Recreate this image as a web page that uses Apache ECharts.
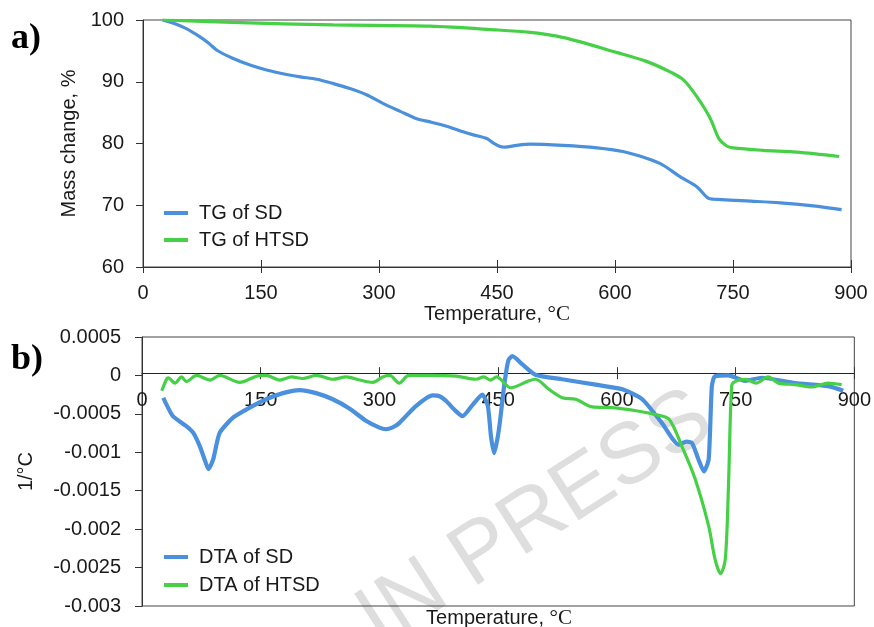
<!DOCTYPE html>
<html>
<head>
<meta charset="utf-8">
<script src="https://cdn.jsdelivr.net/npm/echarts@6/dist/echarts.min.js"></script>
<style>
html,body{margin:0;padding:0;background:#fff;}
#c{width:874px;height:627px;}
</style>
</head>
<body>
<div id="c"></div>
<script>
// ---- axis ticks ----
var xTicks = [0, 150, 300, 450, 600, 750, 900];
var tgTicks = [60, 70, 80, 90, 100];
var dtaTicks = [-0.003, -0.0025, -0.002, -0.0015, -0.001, -0.0005, 0, 0.0005];

// ---- (a) TG curves ----
var tgSdT = [25,38,55,72,84,94,114,136,157,178,200,221,242,263,284,305,327,348,365,386,407,420,437,445,454,460,475,492,534,577,610,640,661,683,704,719,725,767,810,852,888];
var tgSdV = [100,99.5,98.6,97.3,96.2,95.1,93.8,92.7,91.9,91.3,90.8,90.4,89.7,88.9,87.9,86.5,85.2,84.0,83.5,82.8,81.9,81.4,80.8,80.1,79.5,79.4,79.7,79.9,79.7,79.3,78.7,77.6,76.5,74.6,73.0,71.1,71.0,70.7,70.4,69.9,69.3];
var tgHtT = [25,114,242,365,449,492,526,555,598,640,670,687,704,721,732,742,750,788,831,885];
var tgHtV = [100,99.6,99.2,99.0,98.4,98.0,97.4,96.5,94.9,93.3,91.6,90.3,87.6,84.1,80.8,79.6,79.3,78.9,78.6,77.9];

// ---- (b) DTA curves ----
var dtaSdT = [27,30,39,56,65,73,80,84,90,98,115,136,157,178,199,220,241,262,283,300,308,316,325,346,367,376,384,395,405,418,430,437,441,445,451,458,463,468,481,497,531,573,607,632,657,678,688,695,703,710,716,720,724,741,762,783,825,867,886];
var dtaSdV = [-0.00029,-0.00036,-0.00053,-0.00066,-0.00075,-0.00092,-0.00112,-0.00122,-0.00109,-0.00075,-0.00055,-0.00042,-0.00031,-0.00023,-0.00019,-0.00023,-0.00031,-0.00043,-0.00059,-0.00068,-0.00070,-0.00068,-0.00062,-0.00040,-0.00026,-0.00027,-0.00033,-0.00045,-0.00053,-0.00038,-0.00025,-0.00040,-0.00080,-0.00101,-0.00070,-0.00010,0.00020,0.00025,0.00014,0.00001,-0.00005,-0.00012,-0.00018,-0.00031,-0.00062,-0.00090,-0.00086,-0.00088,-0.00109,-0.00125,-0.00109,-0.00014,-0.00001,0,-0.00007,-0.00003,-0.00010,-0.00014,-0.00020];
var dtaHtT = [25,31,33,41.6,50,56,69,86,98,123.5,144.6,157,174,189,203,220,241,258,275,291.5,304,313,325,337,363,397,422,432,440,448,466,489,497,514,531,548,569,594,624,649,666,682,699,716,724,731,737,741,745,749,763,776,791,804,825,846,867,884];
var dtaHtV = [-0.0002,-0.00005,-0.00003,-0.0001,-0.00002,-0.00008,0,-0.00006,0,-0.00009,-0.00001,0,-0.00006,-0.00002,-0.00004,0,-0.00005,-0.00002,-0.00006,-0.00009,-0.00002,0,-0.0001,0,0,-0.00001,-0.00005,-0.00002,-0.00006,-0.00002,-0.00016,-0.00007,-0.00005,-0.00018,-0.00029,-0.00031,-0.00041,-0.00042,-0.00046,-0.00051,-0.00057,-0.00092,-0.00135,-0.00196,-0.00239,-0.00258,-0.00239,-0.00144,-0.00014,-0.00008,-0.00005,-0.0001,-0.00002,-0.0001,-0.00012,-0.00015,-0.0001,-0.00012];

function zip(t, v) { return t.map(function (x, i) { return [x, v[i]]; }); }

var BLUE = '#4a90dc';
var GREEN = '#46d046';
var FONT = 'Liberation Sans';
var TXT = '#1a1a1a';

var GB = { left: 142, top: 337, width: 714, height: 269 };

var chart = echarts.init(document.getElementById('c'), null, { renderer: 'canvas' });

var labelStyle = { fontFamily: FONT, fontSize: 20, color: TXT };

function xAxisB(main, offset) {
  return {
    gridIndex: 1, type: 'value', min: xTicks[0], max: xTicks[xTicks.length - 1], interval: xTicks[1] - xTicks[0],
    position: 'bottom', offset: offset,
    axisLine: { show: main, onZero: false, lineStyle: { color: '#222', width: 1 } },
    axisTick: { show: true, inside: !main, length: 6, lineStyle: { color: '#333' } },
    axisLabel: main ? Object.assign({ margin: 17 }, labelStyle) : { show: false },
    splitLine: { show: false }
  };
}

function buildOption(offB) {
  return {
    animation: false,
    backgroundColor: '#fff',
    grid: [
      { left: 143, top: 20, width: 708, height: 247, show: true, borderColor: '#444', borderWidth: 1 },
      { left: GB.left, top: GB.top, width: GB.width, height: GB.height, show: true, borderColor: '#444', borderWidth: 1 }
    ],
    xAxis: [
      { gridIndex: 0, type: 'value', min: xTicks[0], max: xTicks[xTicks.length - 1], interval: xTicks[1] - xTicks[0],
        position: 'bottom',
        axisLine: { show: true, onZero: false, lineStyle: { color: '#333', width: 1 } },
        axisTick: { show: true, inside: false, length: 6, lineStyle: { color: '#333' } },
        axisLabel: Object.assign({ margin: 16 }, labelStyle),
        splitLine: { show: false },
        name: 'Temperature, {s|°C}', nameLocation: 'middle', nameGap: 36,
        nameTextStyle: { fontFamily: FONT, fontSize: 20, color: TXT, rich: { s: { fontFamily: 'Liberation Serif', fontSize: 21, color: TXT } } }
      },
      { gridIndex: 0, type: 'value', min: xTicks[0], max: xTicks[xTicks.length - 1], interval: xTicks[1] - xTicks[0],
        position: 'bottom',
        axisLine: { show: false, onZero: false },
        axisTick: { show: true, inside: true, length: 7, lineStyle: { color: '#333' } },
        axisLabel: { show: false }, splitLine: { show: false }
      },
      xAxisB(true, offB),
      xAxisB(false, offB)
    ],
    yAxis: [
      { gridIndex: 0, type: 'value', min: tgTicks[0], max: tgTicks[tgTicks.length - 1], interval: tgTicks[1] - tgTicks[0],
        axisLine: { show: true, onZero: false, lineStyle: { color: '#333', width: 1 } },
        axisTick: { show: true, inside: false, length: 7, lineStyle: { color: '#333' } },
        axisLabel: Object.assign({ margin: 19 }, labelStyle),
        splitLine: { show: false },
        name: 'Mass change, %', nameLocation: 'middle', nameGap: 57,
        nameTextStyle: { fontFamily: FONT, fontSize: 20, color: TXT }
      },
      { gridIndex: 1, type: 'value', min: dtaTicks[0], max: dtaTicks[dtaTicks.length - 1], interval: dtaTicks[1] - dtaTicks[0],
        axisLine: { show: true, onZero: false, lineStyle: { color: '#333', width: 1 } },
        axisTick: { show: true, inside: false, length: 7, lineStyle: { color: '#333' } },
        axisLabel: Object.assign({ margin: 21, formatter: function (v) { return String(+v.toFixed(4)); } }, labelStyle),
        splitLine: { show: false },
        name: '1/°C', nameLocation: 'middle', nameGap: 106,
        nameTextStyle: { fontFamily: FONT, fontSize: 20, color: TXT }
      }
    ],
    legend: [
      { left: 159, top: 198, orient: 'vertical', itemWidth: 24, itemHeight: 4, itemGap: 7, icon: 'rect',
        textStyle: { fontFamily: FONT, fontSize: 20, color: TXT, padding: [0, 0, 0, 6] },
        data: ['TG of SD', 'TG of HTSD'] },
      { left: 159, top: 542, orient: 'vertical', itemWidth: 24, itemHeight: 4, itemGap: 8, icon: 'rect',
        textStyle: { fontFamily: FONT, fontSize: 20, color: TXT, padding: [0, 0, 0, 6] },
        data: ['DTA of SD', 'DTA of HTSD'] }
    ],
    graphic: [
      { type: 'text', left: 11, top: 21, z: 5, style: { text: 'a)', font: 'bold 36px "Liberation Serif"', fill: '#000' } },
      { type: 'text', left: 11, top: 342, z: 5, style: { text: 'b)', font: 'bold 36px "Liberation Serif"', fill: '#000' } },
      { type: 'text', x: 499, y: 618, z: 5, style: { text: 'Temperature, {s|°C}', fontFamily: FONT, fontSize: 20, fill: TXT, align: 'center', verticalAlign: 'middle',
        rich: { s: { fontFamily: 'Liberation Serif', fontSize: 21, fill: TXT } } } },
      { type: 'text', x: 390, y: 664, z: -1, rotation: 0.57, style: { text: 'IN PRESS', font: '86px "Liberation Sans"', fill: '#dedede', align: 'left', verticalAlign: 'bottom' } }
    ],
    series: [
      { name: 'TG of SD', type: 'line', xAxisIndex: 0, yAxisIndex: 0, data: zip(tgSdT, tgSdV), showSymbol: false, symbol: 'none', smooth: 0.3,
        lineStyle: { color: BLUE, width: 3.2 }, itemStyle: { color: BLUE }, z: 3 },
      { name: 'TG of HTSD', type: 'line', xAxisIndex: 0, yAxisIndex: 0, data: zip(tgHtT, tgHtV), showSymbol: false, symbol: 'none', smooth: 0.3,
        lineStyle: { color: GREEN, width: 3.2 }, itemStyle: { color: GREEN }, z: 3 },
      { name: 'DTA of SD', type: 'line', xAxisIndex: 2, yAxisIndex: 1, data: zip(dtaSdT, dtaSdV), showSymbol: false, symbol: 'none', smooth: 0.2,
        lineStyle: { color: BLUE, width: 4.2 }, itemStyle: { color: BLUE }, z: 3 },
      { name: 'DTA of HTSD', type: 'line', xAxisIndex: 2, yAxisIndex: 1, data: zip(dtaHtT, dtaHtV), showSymbol: false, symbol: 'none', smooth: 0.3,
        lineStyle: { color: GREEN, width: 3.2 }, itemStyle: { color: GREEN }, z: 4 }
    ]
  };
}

// first pass: find where value 0 lies on the DTA axis, then put the x axis line there
chart.setOption(buildOption(0));
var zeroY = chart.convertToPixel({ yAxisIndex: 1 }, 0);
var offB = zeroY - (GB.top + GB.height);
chart.setOption(buildOption(offB), true);
</script>
</body>
</html>
